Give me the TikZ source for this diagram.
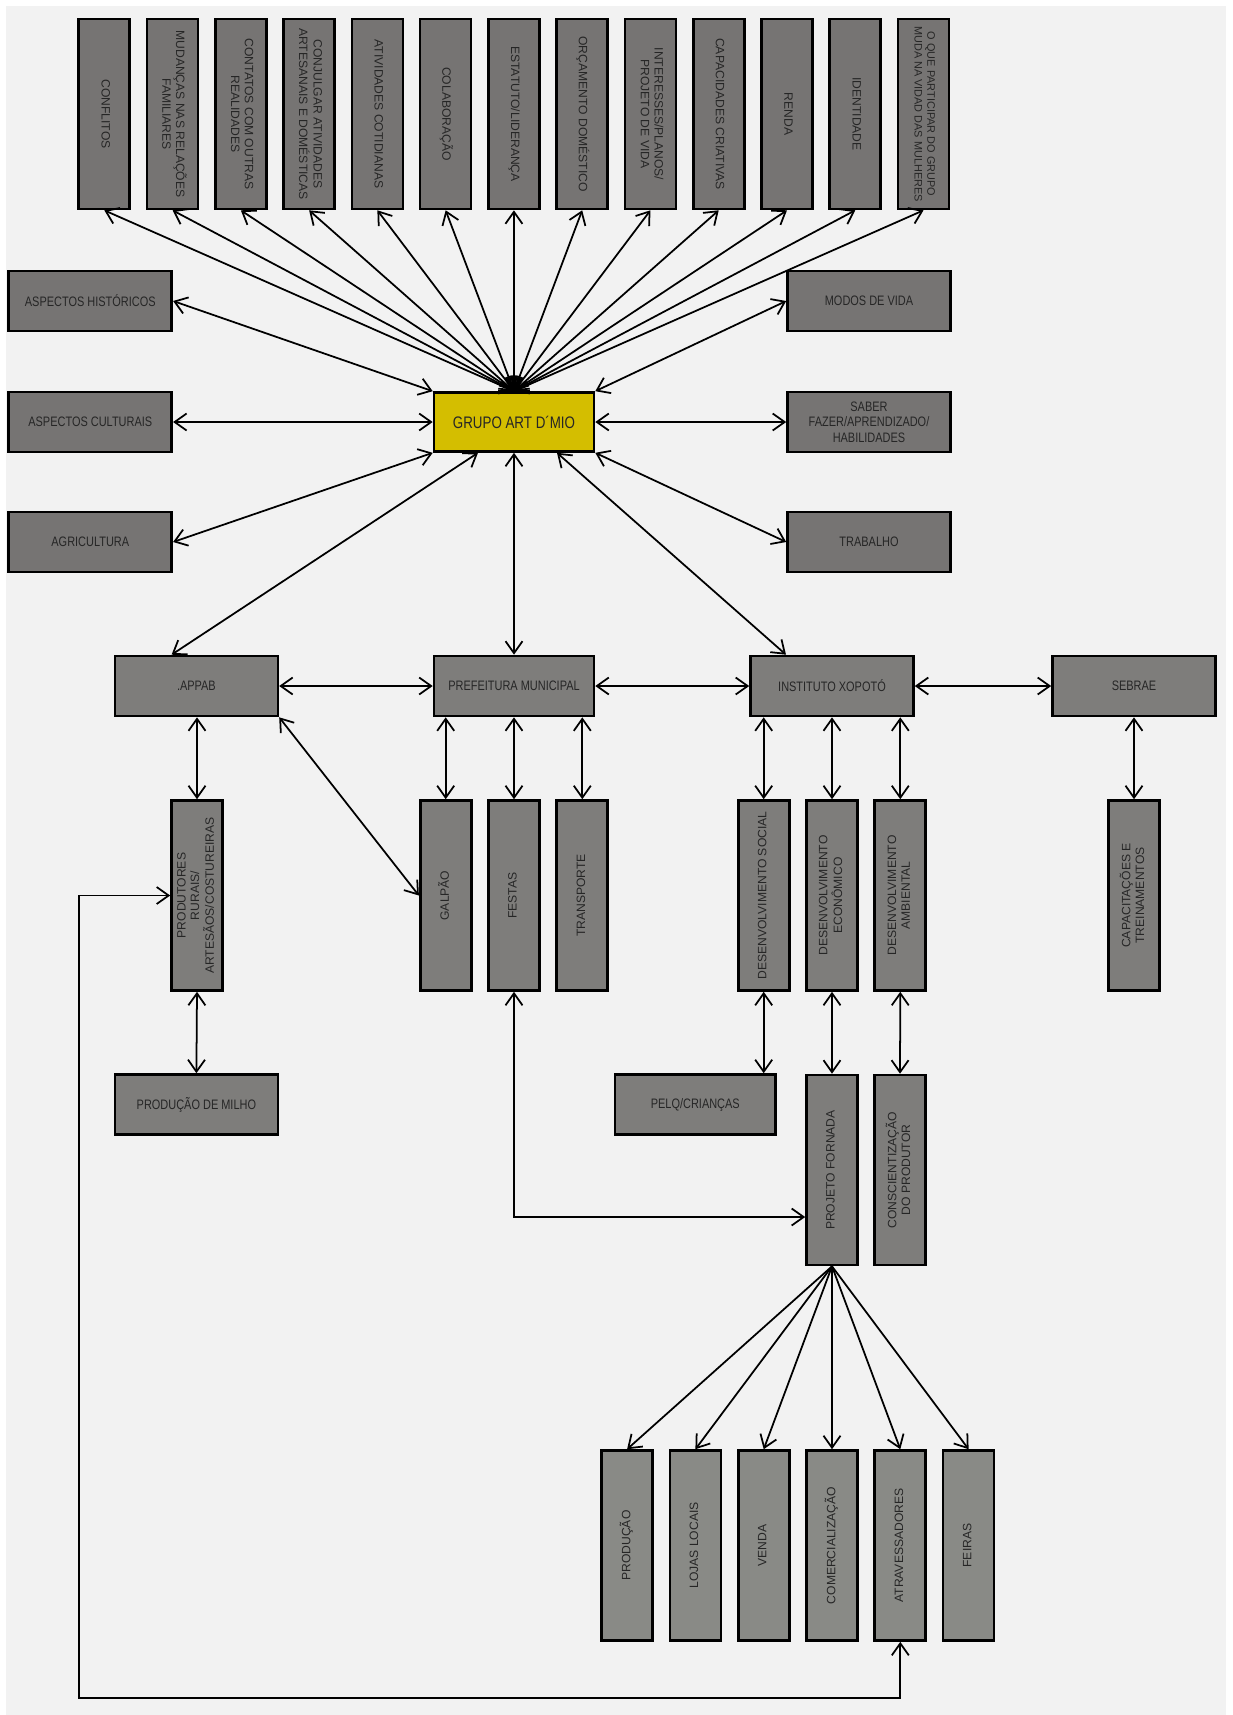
\documentclass[tikz,border=0pt]{standalone}
\usepackage{fontspec}
\setmainfont{Liberation Sans}
\newfontfamily\estreita[FakeStretch=0.8]{Liberation Sans}
\usepackage{graphicx}
\usepackage{xcolor}
\usetikzlibrary{arrows.meta}

\definecolor{fundo}{RGB}{242,242,242}
\definecolor{cinzaA}{RGB}{118,116,115}
\definecolor{cinzaB}{RGB}{126,125,123}
\definecolor{cinzaC}{RGB}{137,138,134}
\definecolor{amarelo}{RGB}{212,190,0}

\newcommand{\desce}[1]{\rotatebox{-90}{\begin{tabular}{@{}c@{}}#1\end{tabular}}}
\newcommand{\sobe}[1]{\rotatebox{90}{\begin{tabular}{@{}c@{}}#1\end{tabular}}}

\begin{document}
\begin{tikzpicture}[x=0.02cm, y=-0.02cm,
    >={Straight Barb[length=2.4mm,width=3.4mm]},
    caixa/.style={draw=black, line width=1.5pt, fill=cinzaA, inner sep=1pt, align=center, text=black!85},
    horiz/.style={caixa, minimum width=3.26cm, minimum height=1.2cm, font=\estreita\fontsize{7.8}{8.8}\selectfont},
    vert/.style={caixa, minimum width=1.02cm, minimum height=3.8cm, font=\fontsize{6.9}{7.8}\selectfont},
    liga/.style={line width=1pt, <->}]
        % Fundo
        \useasboundingbox (0,0) rectangle (1232,1715);
        \fill[white] (0,0) rectangle (1232,1715);
        \fill[fundo] (6,6) rectangle (1226,1715);

        % Linha de cima
        \foreach \nome/\rot [count=\i from 0] in {conf/CONFLITOS, mud/{MUDANÇAS NAS RELAÇÕES\\FAMILIARES},
            cont/{CONTATOS COM OUTRAS\\REALIDADES}, conj/{CONJULGAR ATIVIDADES\\ARTESANAIS E DOMÉSTICAS},
            ativ/ATIVIDADES COTIDIANAS, colab/COLABORAÇÃO, estat/{ESTATUTO/LIDERANÇA},
            orc/ORÇAMENTO DOMÉSTICO, inter/{INTERESSES/PLANOS/\\PROJETO DE VIDA},
            capcr/CAPACIDADES CRIATIVAS, renda/RENDA, ident/IDENTIDADE}
            \node[vert] (\nome) at (104.3+68.27*\i,114) {\desce{\rot}};
        \node[vert, font=\fontsize{6.2}{7.2}\selectfont] (oque) at (923.5,114) {\desce{O QUE PARTICIPAR DO GRUPO\\MUDA NA VIDAD DAS MULHERES}};

        % Laterais e centro
        \node[horiz] (hist) at (90.3,301) {ASPECTOS HISTÓRICOS};
        \node[horiz] (cult) at (90.3,422) {ASPECTOS CULTURAIS};
        \node[horiz] (agri) at (90.3,542) {AGRICULTURA};
        \node[horiz] (modos) at (869,301) {MODOS DE VIDA};
        \node[horiz] (saber) at (869,422) {SABER\\FAZER/APRENDIZADO/\\HABILIDADES};
        \node[horiz] (trab) at (869,542) {TRABALHO};
        \node[horiz, fill=amarelo, minimum width=3.2cm, minimum height=1.18cm, font=\estreita\fontsize{9.5}{11}\selectfont] (grupo) at (514,422) {GRUPO ART D´MIO};

        % Instituicoes
        \node[horiz, fill=cinzaB] (appab) at (196.4,686) {.APPAB};
        \node[horiz, fill=cinzaB, minimum width=3.2cm] (pref) at (514,686) {PREFEITURA MUNICIPAL};
        \node[horiz, fill=cinzaB] (inst) at (832,686) {INSTITUTO XOPOTÓ};
        \node[horiz, fill=cinzaB] (sebrae) at (1134,686) {SEBRAE};

        % Segunda linha
        \node[vert, fill=cinzaB] (prod) at (197,895.5) {\sobe{PRODUTORES\\RURAIS/\\ARTESÃOS/COSTUREIRAS}};
        \foreach \nome/\rot [count=\i from -1] in {galpao/GALPÃO, festas/FESTAS, transp/TRANSPORTE}
            \node[vert, fill=cinzaB] (\nome) at (514+68.3*\i,895.5) {\sobe{\rot}};
        \foreach \nome/\rot [count=\i from -1] in {dsoc/DESENVOLVIMENTO SOCIAL,
            deco/{DESENVOLVIMENTO\\ECONÔMICO}, damb/{DESENVOLVIMENTO\\AMBIENTAL}}
            \node[vert, fill=cinzaB] (\nome) at (832+68.3*\i,895.5) {\sobe{\rot}};
        \node[vert, fill=cinzaB] (capac) at (1134,895.5) {\sobe{CAPACITAÇÕES E\\TREINAMENTOS}};

        % Terceira linha
        \node[horiz, fill=cinzaB] (milho) at (196.4,1104.5) {PRODUÇÃO DE MILHO};
        \node[horiz, fill=cinzaB, minimum width=3.22cm] (pelq) at (695.3,1104.5) {PELQ/CRIANÇAS};
        \node[vert, fill=cinzaB] (forn) at (832,1170) {\sobe{PROJETO FORNADA}};
        \node[vert, fill=cinzaB] (consc) at (900,1170) {\sobe{CONSCIENTIZAÇÃO\\DO PRODUTOR}};

        % Linha de baixo
        \foreach \nome/\rot [count=\i from 0] in {prodc/PRODUÇÃO, lojas/LOJAS LOCAIS, venda/VENDA,
            comerc/COMERCIALIZAÇÃO, atrav/ATRAVESSADORES, feiras/FEIRAS}
            \node[vert, fill=cinzaC] (\nome) at (627.1+68.3*\i,1545.5) {\sobe{\rot}};

        % Ligacoes do grupo
        \foreach \nome in {conf,mud,cont,conj,ativ,colab,estat,orc,inter,capcr,renda,ident,oque}
            \draw[liga] (grupo.north) -- (\nome.south);
        \draw[liga] (hist.east) -- (grupo.north west);
        \draw[liga] (cult.east) -- (grupo.west);
        \draw[liga] (agri.east) -- (grupo.south west);
        \draw[liga] (modos.west) -- (grupo.north east);
        \draw[liga] (saber.west) -- (grupo.east);
        \draw[liga] (trab.west) -- (grupo.south east);
        \draw[liga] (grupo.south) -- (pref.north);
        \draw[liga] ([xshift=-0.72cm]grupo.south) -- ([xshift=1.16cm]appab.north west);
        \draw[liga] ([xshift=0.86cm]grupo.south) -- ([xshift=-0.92cm]inst.north);

        % Ligacoes das instituicoes
        \draw[liga] (appab.east) -- (pref.west);
        \draw[liga] (pref.east) -- (inst.west);
        \draw[liga] (inst.east) -- (sebrae.west);
        \draw[liga] (prod.north |- appab.south) -- (prod.north);
        \draw[liga] (appab.south east) -- (galpao.west);
        \foreach \nome in {galpao,festas,transp}
            \draw[liga] (\nome.north |- pref.south) -- (\nome.north);
        \foreach \nome in {dsoc,deco,damb}
            \draw[liga] (\nome.north |- inst.south) -- (\nome.north);
        \draw[liga] (capac.north |- sebrae.south) -- (capac.north);
        \draw[liga] (prod.south) -- (milho.north);
        \draw[liga] (dsoc.south) -- (dsoc.south |- pelq.north);
        \draw[liga] (deco.south) -- (forn.north);
        \draw[liga] (damb.south) -- (consc.north);

        % Projeto fornada
        \foreach \nome in {prodc,lojas,venda,comerc,atrav,feiras}
            \draw[line width=1pt, ->] (forn.south) -- (\nome.north);
        \path (forn.west) ++(0,47) coordinate (fornin);
        \draw[liga] (festas.south) |- (fornin);
        \coordinate (retorno) at (79,1698);
        \draw[liga] (atrav.south) |- (retorno) |- (prod.west);
    \end{tikzpicture}
\end{document}
